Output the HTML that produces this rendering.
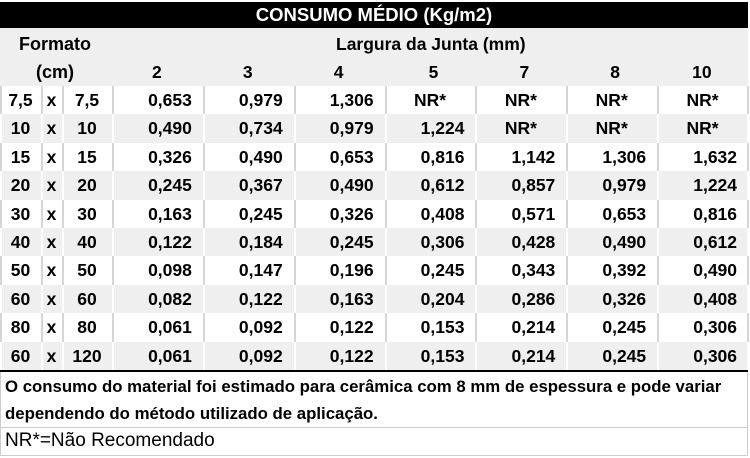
<!DOCTYPE html>
<html><head><meta charset="utf-8"><style>
body{margin:0;width:750px;height:458px;background:#fff;overflow:hidden;font-family:"Liberation Sans",Arial,sans-serif;}
#wrap{position:relative;width:750px;height:458px;}
.abs{position:absolute;}
.t{position:absolute;font-weight:bold;font-size:17.5px;color:#000;white-space:nowrap;line-height:28px;}
</style></head><body>
<div id="wrap">
  <div class="abs" style="left:0;top:2px;width:748px;height:26px;background:#000;"></div>
  <div class="abs" style="left:0;top:2px;width:748px;height:26px;line-height:26px;text-align:center;color:#fff;font-weight:bold;font-size:18.5px;">CONSUMO MÉDIO (Kg/m2)</div>
  <div class="abs" style="left:0;top:28px;width:748px;height:58px;background:#efefef;"></div>
  <div class="t" style="left:19px;top:30px;font-size:18px;">Formato</div>
  <div class="t" style="left:36px;top:58px;font-size:18px;">(cm)</div>
  <div class="t" style="left:336px;top:30px;">Largura da Junta (mm)</div>
  <div id="rows"></div>
  <div class="abs" style="left:0;top:370px;width:748px;height:2px;background:#000;"></div>
  <div class="abs" style="left:5px;top:373px;font-weight:bold;font-size:16.8px;line-height:27px;width:745px;white-space:nowrap;">O consumo do material foi estimado para cerâmica com 8 mm de espessura e pode variar<br>dependendo do método utilizado de aplicação.</div>
  <div class="abs" style="left:0;top:427px;width:748px;height:1px;background:#ccc;"></div>
  <div class="abs" style="left:5px;top:428px;font-size:19px;line-height:26px;">NR*=Não Recomendado</div>
  <div class="abs" style="left:0;top:455px;width:748px;height:1px;background:#ccc;"></div>
  <div class="abs" style="left:0;top:372px;width:1px;height:84px;background:#ccc;"></div>
  <div class="abs" style="left:747px;top:372px;width:1px;height:84px;background:#ccc;"></div>
</div>
<script>
const widths = ["2","3","4","5","7","8","10"];
const formatsA = ["7,5","10","15","20","30","40","50","60","80","60"];
const formatsB = ["7,5","10","15","20","30","40","50","60","80","120"];
const col2 = ["0,653","0,490","0,326","0,245","0,163","0,122","0,098","0,082","0,061","0,061"];
const col3 = ["0,979","0,734","0,490","0,367","0,245","0,184","0,147","0,122","0,092","0,092"];
const col4 = ["1,306","0,979","0,653","0,490","0,326","0,245","0,196","0,163","0,122","0,122"];
const col5 = ["NR*","1,224","0,816","0,612","0,408","0,306","0,245","0,204","0,153","0,153"];
const col7 = ["NR*","NR*","1,142","0,857","0,571","0,428","0,343","0,286","0,214","0,214"];
const col8 = ["NR*","NR*","1,306","0,979","0,653","0,490","0,392","0,326","0,245","0,245"];
const col10 = ["NR*","NR*","1,632","1,224","0,816","0,612","0,490","0,408","0,306","0,306"];
const cols=[col2,col3,col4,col5,col7,col8,col10];
const wrap=document.getElementById('rows');
const x0=112,cw=90.86,rowTop=86,rh=28.4;
function div(css,txt){const d=document.createElement('div');d.style.cssText=css;if(txt!==undefined)d.textContent=txt;wrap.appendChild(d);return d;}
widths.forEach((w,i)=>{
  const d=div(`position:absolute;font-weight:bold;font-size:17.5px;line-height:28px;top:58px;left:${x0+i*cw+(i==6?35:i>=3?44:40)}px;`,w);
  
  
});
formatsA.forEach((f,r)=>{
  const y=rowTop+r*rh;
  const gray=r%2==1;
  const bg=div(`position:absolute;left:0;top:${y}px;width:748px;height:${rh}px;background:${gray?'#efefef':'#fff'};`);
  
  
  const sep=gray?'#fff':'#d6d6d6';
  [0,41,62,112,203,294,385,475,566,657,747].forEach(x=>{
    const l=div(`position:absolute;left:${x}px;top:${y}px;width:1.5px;height:${rh}px;background:${sep};`);
    
    
  });
  const base=`position:absolute;font-weight:bold;font-size:17.5px;line-height:${rh}px;top:${y}px;`;
  const a=div(base+`left:0;width:41px;text-align:center;`,f);
  
  
  const xx=div(base+`left:41px;width:21px;text-align:center;`,'x');
  
  
  const b=div(base+`left:62px;width:50px;text-align:center;`,formatsB[r]);
  
  
  cols.forEach((c,i)=>{
    const v=c[r];
    const nr=v==='NR*';
    const cell=div(base+`left:${x0+i*cw}px;width:${nr?cw:cw-11}px;text-align:${nr?'center':'right'};`,v);
    
    
  });
});
</script>
</body></html>
